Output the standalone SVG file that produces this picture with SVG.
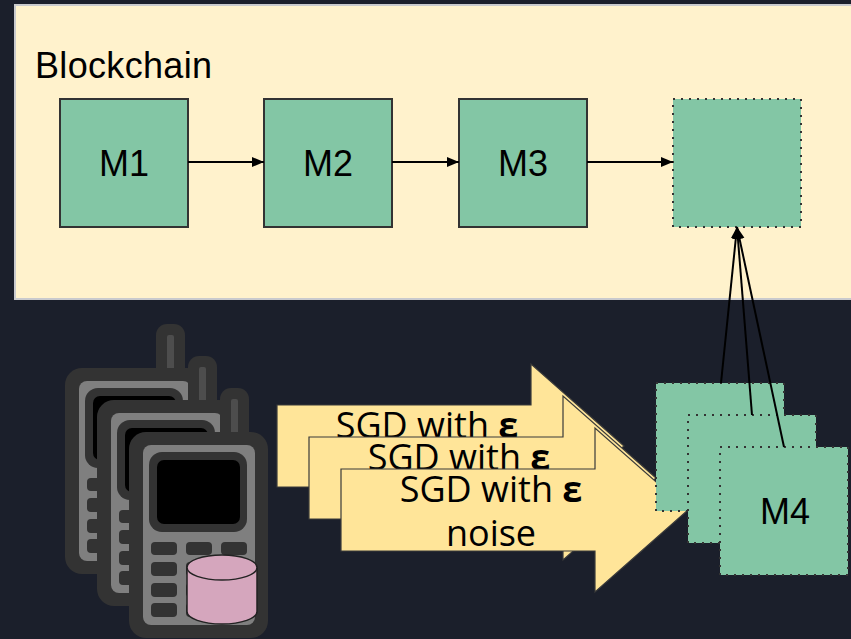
<svg xmlns="http://www.w3.org/2000/svg" xmlns:xlink="http://www.w3.org/1999/xlink" width="851" height="639" viewBox="0 0 851 639">
  <style>
    .block { fill: #83c6a5; stroke: #333333; stroke-width: 2; }
    .pending { fill: #83c6a5; stroke: #333333; stroke-width: 2; stroke-dasharray: 2 6; }
    .mlabel { font-family: "Liberation Sans", Arial, sans-serif; font-size: 36px; fill: #000000; text-anchor: middle; }
    .link { stroke: #000000; stroke-width: 2; fill: none; }
    .sgd { fill: #ffe599; stroke: #3a3a3a; stroke-width: 1.2; }
    .sgdtext { font-family: "Open Sans", "Liberation Sans", sans-serif; font-size: 36px; fill: #000000; text-anchor: middle; }
    .dark { fill: #333333; }
  </style>
  <defs>
    <marker id="head" markerUnits="userSpaceOnUse" markerWidth="13" markerHeight="11" refX="12" refY="5" orient="auto">
      <path d="M0,0 L12,5 L0,10 Z" fill="#000000"/>
    </marker>
    <!-- parts of a label that the next arrow in the stack covers are cut away -->
    <clipPath id="above-2"><rect x="270" y="360" width="300" height="77"/></clipPath>
    <clipPath id="above-3"><rect x="300" y="390" width="300" height="79"/></clipPath>
    <!-- phone drawn at origin: body is 139 x 206, antenna rises above it -->
    <g id="phone">
      <rect x="91" y="-44" width="29" height="60" rx="11" class="dark"/>
      <rect x="102" y="-33" width="7" height="40" rx="2" fill="#4d4d4d"/>
      <rect x="0" y="0" width="139" height="206" rx="17" class="dark"/>
      <rect x="14" y="13" width="112" height="180" rx="8" fill="#7f7f7f"/>
      <rect x="20" y="20" width="98" height="80" rx="13" class="dark"/>
      <rect x="28" y="28" width="83" height="64" rx="7" fill="#000000"/>
      <rect x="22" y="110" width="26" height="13" rx="4" class="dark"/>
      <rect x="57" y="110" width="26" height="13" rx="4" class="dark"/>
      <rect x="92" y="110" width="26" height="13" rx="4" class="dark"/>
      <rect x="22" y="130" width="26" height="14" rx="4" class="dark"/>
      <rect x="57" y="130" width="26" height="14" rx="4" class="dark"/>
      <rect x="92" y="130" width="26" height="14" rx="4" class="dark"/>
      <rect x="22" y="151" width="26" height="14" rx="4" class="dark"/>
      <rect x="57" y="151" width="26" height="14" rx="4" class="dark"/>
      <rect x="92" y="151" width="26" height="14" rx="4" class="dark"/>
      <rect x="22" y="171" width="26" height="14" rx="4" class="dark"/>
      <rect x="57" y="171" width="26" height="14" rx="4" class="dark"/>
      <rect x="92" y="171" width="26" height="14" rx="4" class="dark"/>
    </g>
  </defs>

  <!-- background -->
  <rect x="0" y="0" width="851" height="639" fill="#1b1f2b"/>

  <!-- blockchain panel -->
  <g id="blockchain">
    <rect x="15" y="5" width="840" height="294" fill="#fff2cc" stroke="#c9cacd" stroke-width="2"/>
    <text x="35" y="78" font-family="Liberation Sans, Arial, sans-serif" font-size="36" textLength="177" fill="#000000">Blockchain</text>
  </g>

  <g id="m1">
    <rect x="60" y="99" width="128" height="128" class="block"/>
    <text x="124" y="176" class="mlabel">M1</text>
  </g>
  <g id="m2">
    <rect x="264" y="99" width="128" height="128" class="block"/>
    <text x="328" y="176" class="mlabel">M2</text>
  </g>
  <g id="m3">
    <rect x="459" y="99" width="128" height="128" class="block"/>
    <text x="523" y="176" class="mlabel">M3</text>
  </g>
  <g id="next-block">
    <rect x="673" y="99" width="128" height="128" class="pending"/>
  </g>

  <!-- devices -->
  <g id="devices">
    <use xlink:href="#phone" transform="translate(65,368)"/>
    <use xlink:href="#phone" transform="translate(97,400)"/>
    <use xlink:href="#phone" transform="translate(129,432)"/>
    <g id="local-data">
      <path d="M187,567.5 L187,611.5 A35,12.5 0 0 0 257,611.5 L257,567.5 Z" fill="#d5a6bd" stroke="#222222" stroke-width="1.5"/>
      <ellipse cx="222" cy="567.5" rx="35" ry="12.5" fill="#d5a6bd" stroke="#222222" stroke-width="1.5"/>
    </g>
  </g>

  <!-- noisy SGD updates -->
  <g id="sgd-1">
    <path d="M277,405 L531,405 L531,364 L624,446 L531,528 L531,487 L277,487 Z" class="sgd"/>
    <text x="427" y="438" class="sgdtext" clip-path="url(#above-2)">SGD with <tspan font-weight="bold">ε</tspan></text>
  </g>
  <g id="sgd-2">
    <path d="M309,437 L563,437 L563,396 L656,478 L563,560 L563,519 L309,519 Z" class="sgd"/>
    <text x="459" y="470" class="sgdtext" clip-path="url(#above-3)">SGD with <tspan font-weight="bold">ε</tspan></text>
  </g>
  <g id="sgd-3">
    <path d="M341,469 L595,469 L595,428 L688,510 L595,592 L595,551 L341,551 Z" class="sgd"/>
    <text x="491" y="502" class="sgdtext">SGD with <tspan font-weight="bold">ε</tspan></text>
    <text x="491" y="546" class="sgdtext">noise</text>
  </g>

  <!-- candidate models -->
  <g id="m4-a">
    <rect x="656" y="383" width="128" height="128" class="pending"/>
  </g>
  <g id="m4-b">
    <rect x="688" y="415" width="128" height="128" class="pending"/>
  </g>
  <g id="m4-c">
    <rect x="720" y="447" width="128" height="128" class="pending"/>
    <text x="785" y="524" class="mlabel">M4</text>
  </g>

  <!-- connectors -->
  <g id="connectors">
    <line x1="188" y1="162" x2="264" y2="162" class="link" marker-end="url(#head)"/>
    <line x1="392" y1="162" x2="459" y2="162" class="link" marker-end="url(#head)"/>
    <line x1="587" y1="162" x2="673" y2="162" class="link" marker-end="url(#head)"/>
    <line x1="721" y1="383" x2="737" y2="227" class="link" marker-end="url(#head)"/>
    <line x1="752" y1="415" x2="737" y2="227" class="link" marker-end="url(#head)"/>
    <line x1="784" y1="447" x2="737" y2="227" class="link" marker-end="url(#head)"/>
  </g>
</svg>
